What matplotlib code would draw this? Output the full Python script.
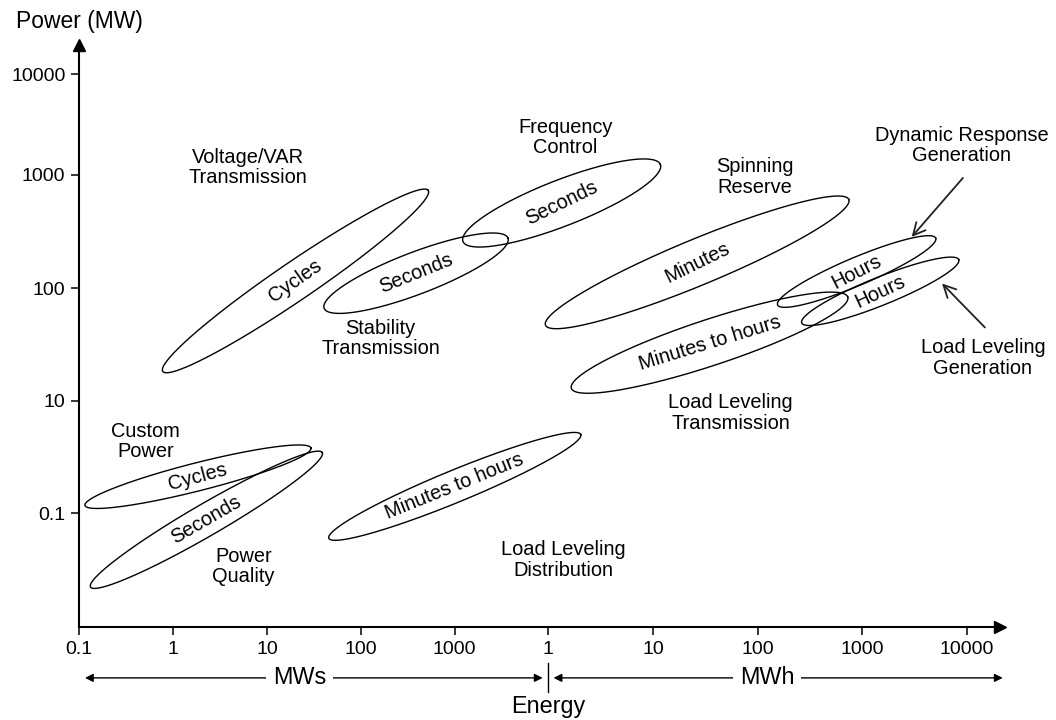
import numpy as np
import matplotlib
matplotlib.use("Agg")
import matplotlib.pyplot as plt

plt.rcParams['font.family'] = ['Liberation Sans', 'DejaVu Sans']

# x axis: energy decades (0.1 MWs ... 1000 MWs, then 1 MWh ... 10000 MWh)
x_ticks = [0, 1, 2, 3, 4, 5, 6, 7, 8, 9]
x_labels = ['0.1', '1', '10', '100', '1000', '1', '10', '100', '1000', '10000']
# y axis: power decades (the axis skips 1 MW)
y_ticks = [0, 1, 2, 3, 4]
y_labels = ['0.1', '10', '100', '1000', '10000']

# ellipses: time-scale text, two tips (x, y) in decade positions, thickness
ell_names = ['Cycles', 'Seconds', 'Seconds', 'Minutes', 'Minutes to hours',
             'Hours', 'Hours', 'Cycles', 'Seconds', 'Minutes to hours']
ell_x1 = [0.89, 2.61, 4.09, 4.97, 5.22, 7.19, 7.42, 0.06, 0.12, 2.66]
ell_y1 = [1.26, 1.82, 2.41, 1.67, 1.11, 1.85, 1.69, 0.07, -0.65, -0.22]
ell_x2 = [3.72, 4.57, 6.07, 7.87, 7.86, 8.70, 8.92, 2.47, 2.59, 5.31]
ell_y2 = [2.86, 2.44, 3.10, 2.78, 1.92, 2.44, 2.25, 0.58, 0.54, 0.70]
ell_w = [38, 42, 46, 46, 46, 28, 28, 28, 32, 32]
ell_rot = [35, 22, 26, 26, 17, 27, 25, 15, 30, 22]

# application names
app_names = ['Voltage/VAR\nTransmission', 'Frequency\nControl', 'Spinning\nReserve',
             'Dynamic Response\nGeneration', 'Stability\nTransmission',
             'Load Leveling\nGeneration', 'Load Leveling\nTransmission',
             'Custom\nPower', 'Power\nQuality', 'Load Leveling\nDistribution']
app_x = [1.80, 5.16, 6.97, 8.95, 3.21, 9.15, 6.74, 0.71, 1.75, 5.14]
app_y = [3.07, 3.37, 2.98, 3.29, 1.55, 1.38, 0.89, 0.64, -0.47, -0.41]

# pointer arrows: start (x, y) -> tip (x, y)
arr_x0 = [8.96, 9.17]
arr_y0 = [2.97, 1.65]
arr_x1 = [8.47, 8.76]
arr_y1 = [2.45, 2.04]

# uneven decade spacing of the original drawing
xs_idx = [-1, 0, 5, 11]
xs_len = [-93.8, 0, 469.0, 469.0 + 6 * 104.7]
ys_idx = [-3, -1, 0, 1, 2, 3, 4, 6]
ys_len = [-226.8, 0, 113.4, 226.0, 338.7, 452.2, 552.7, 753.7]

def fx(u):
    return np.interp(u, xs_idx, xs_len)

def ix(p):
    return np.interp(p, xs_len, xs_idx)

def fy(v):
    return np.interp(v, ys_idx, ys_len)

def iy(p):
    return np.interp(p, ys_len, ys_idx)

fig = plt.figure(figsize=(10.56, 7.2), dpi=100)
ax = fig.add_axes([79.3 / 1056, (720 - 626.7) / 720, 920.7 / 1056, 581.7 / 720])
ax.set_xscale('function', functions=(fx, ix))
ax.set_yscale('function', functions=(fy, iy))
ax.set_xlim(0, 9.314)
ax.set_ylim(-1, 4.289)
ax.set_autoscale_on(False)

for s in ['top', 'right']:
    ax.spines[s].set_visible(False)
for s in ['left', 'bottom']:
    ax.spines[s].set_linewidth(1.5)
ax.plot(1, 0, '>k', ms=8, transform=ax.transAxes, clip_on=False)
ax.plot(0, 1, '^k', ms=8, transform=ax.transAxes, clip_on=False)

ax.set_xticks(x_ticks)
ax.set_xticklabels(x_labels)
ax.set_yticks(y_ticks)
ax.set_yticklabels(y_labels)
ax.minorticks_off()
ax.tick_params(direction='out', length=6, width=1.1, labelsize=14, pad=4)

ax.text(0, 1.041, 'Power (MW)', transform=ax.transAxes, ha='center', va='center', fontsize=16.5)

# ellipses
t = np.linspace(0, 2 * np.pi, 361)
for name, x1, y1, x2, y2, w, rot in zip(ell_names, ell_x1, ell_y1, ell_x2, ell_y2, ell_w, ell_rot):
    p1, p2 = ax.transData.transform([(x1, y1), (x2, y2)])
    c = (p1 + p2) / 2
    d = p2 - p1
    a = np.hypot(d[0], d[1]) / 2
    e = d / (2 * a)
    n = np.array([-e[1], e[0]])
    pts = c + np.outer(a * np.cos(t), e) + np.outer(w / 2 * np.sin(t), n)
    data = ax.transData.inverted().transform(pts)
    ax.plot(data[:, 0], data[:, 1], color='black', lw=1.0)
    cx, cy = ax.transData.inverted().transform(c)
    ax.text(cx, cy, name, rotation=rot, rotation_mode='anchor', ha='center', va='center', fontsize=14.4)

for name, x, y in zip(app_names, app_x, app_y):
    ax.text(x, y, name, ha='center', va='center', fontsize=14.4, linespacing=1.1)

for x0, y0, x1, y1 in zip(arr_x0, arr_y0, arr_x1, arr_y1):
    ax.annotate('', xy=(x1, y1), xytext=(x0, y0), annotation_clip=False,
                arrowprops=dict(arrowstyle='->', color='#222222', lw=1.3, mutation_scale=22,
                                shrinkA=0, shrinkB=0))

# energy bands under the x axis
tr = ax.get_xaxis_transform()
bands = [('MWs', 0.06, 4.94, 2.35), ('MWh', 5.05, 9.34, 7.09)]
for lab, xa, xb, xm in bands:
    ax.annotate('', xy=(xa, -0.088), xytext=(xb, -0.088), xycoords=tr, textcoords=tr,
                annotation_clip=False,
                arrowprops=dict(arrowstyle='<|-|>', color='black', lw=1.0, mutation_scale=12,
                                shrinkA=0, shrinkB=0))
    ax.text(xm, -0.088, lab, transform=tr, ha='center', va='center', fontsize=16.8,
            bbox=dict(facecolor='white', edgecolor='none', pad=5))
ax.plot([5, 5], [-0.062, -0.112], color='black', lw=1.0, transform=tr, clip_on=False)
ax.text(5, -0.138, 'Energy', transform=tr, ha='center', va='center', fontsize=16.8)

fig.savefig('out.png', dpi=100)
